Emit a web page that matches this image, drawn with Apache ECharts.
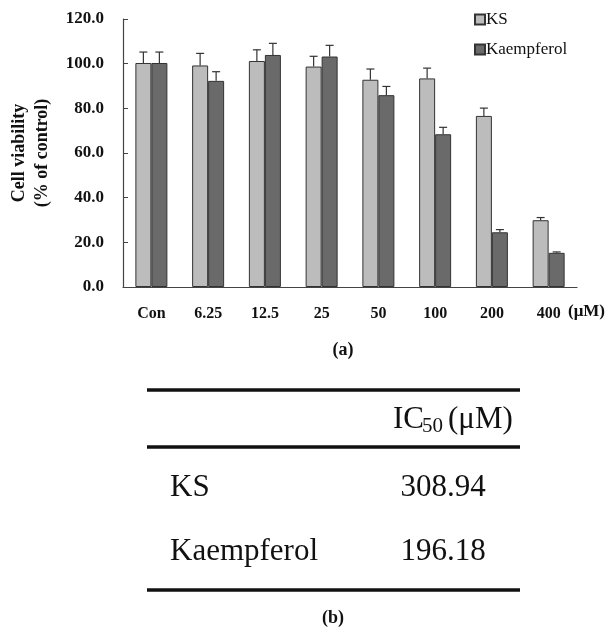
<!DOCTYPE html>
<html>
<head>
<meta charset="utf-8">
<script src="https://cdn.jsdelivr.net/npm/echarts@6/dist/echarts.min.js"></script>
<style>html,body{margin:0;padding:0;background:#fff;}#c{width:611px;height:634px;}</style>
</head>
<body>
<div id="c"></div>
<script>
const categories = ['Con', '6.25', '12.5', '25', '50', '100', '200', '400'];
const ksValues = [100.3, 99.2, 101.2, 98.7, 92.8, 93.4, 76.6, 29.9];
const ksErrors = [4.9, 5.4, 5.0, 4.6, 4.8, 4.6, 3.5, 1.2];
const kaeValues = [100.3, 92.3, 103.9, 103.2, 85.9, 68.4, 24.5, 15.3];
const kaeErrors = [4.9, 4.1, 5.2, 5.0, 3.9, 3.1, 1.2, 0.4];
const yTicks = [0, 20, 40, 60, 80, 100, 120];
const tableRows = [['KS', '308.94'], ['Kaempferol', '196.18']];

const serif = '"Liberation Serif", "Times New Roman", serif';
const chart = echarts.init(document.getElementById('c'));

function errSeries(values, errors, offset) {
  return {
    type: 'custom',
    silent: true,
    z: 5,
    data: values.map((v, i) => [i, v, errors[i]]),
    renderItem: function (params, api) {
      const i = api.value(0), v = api.value(1), e = api.value(2);
      const base = api.coord([i, v]);
      const top = api.coord([i, v + e]);
      const x = base[0] + offset;
      const cap = 4;
      return {
        type: 'group',
        children: [
          { type: 'line', shape: { x1: x, y1: base[1], x2: x, y2: top[1] }, style: { stroke: '#333', lineWidth: 1.2 } },
          { type: 'line', shape: { x1: x - cap, y1: top[1], x2: x + cap, y2: top[1] }, style: { stroke: '#333', lineWidth: 1.2 } }
        ]
      };
    }
  };
}

const graphics = [
  { type: 'text', x: 568, y: 312, style: { text: '(μM)', font: 'bold 17px ' + serif, fill: '#111', textAlign: 'left', textVerticalAlign: 'middle' } },
  { type: 'text', x: 343, y: 350, style: { text: '(a)', font: 'bold 18px ' + serif, fill: '#111', textAlign: 'center', textVerticalAlign: 'middle' } },
  { type: 'line', shape: { x1: 147, y1: 390, x2: 520, y2: 390 }, style: { stroke: '#111', lineWidth: 3.5 } },
  { type: 'line', shape: { x1: 147, y1: 447, x2: 520, y2: 447 }, style: { stroke: '#111', lineWidth: 3.5 } },
  { type: 'line', shape: { x1: 147, y1: 590, x2: 520, y2: 590 }, style: { stroke: '#111', lineWidth: 3.5 } },
  { type: 'text', x: 393, y: 420, style: { text: 'IC', font: '31px ' + serif, fill: '#111', textAlign: 'left', textVerticalAlign: 'middle' } },
  { type: 'text', x: 422, y: 426, style: { text: '50', font: '21px ' + serif, fill: '#111', textAlign: 'left', textVerticalAlign: 'middle' } },
  { type: 'text', x: 448, y: 420, style: { text: '(μM)', font: '31px ' + serif, fill: '#111', textAlign: 'left', textVerticalAlign: 'middle' } },
  { type: 'text', x: 333, y: 618, style: { text: '(b)', font: 'bold 18px ' + serif, fill: '#111', textAlign: 'center', textVerticalAlign: 'middle' } }
];
tableRows.forEach((r, k) => {
  const y = 488 + k * 64;
  graphics.push({ type: 'text', x: 170, y: y, style: { text: r[0], font: '31px ' + serif, fill: '#111', textAlign: 'left', textVerticalAlign: 'middle' } });
  graphics.push({ type: 'text', x: 443, y: y, style: { text: r[1], font: '31px ' + serif, fill: '#111', textAlign: 'center', textVerticalAlign: 'middle' } });
});

chart.setOption({
  animation: false,
  backgroundColor: '#fff',
  grid: { left: 123, right: 34, top: 19, bottom: 347, containLabel: false, outerBoundsMode: 'none' },
  legend: {
    orient: 'vertical',
    left: 469,
    top: 6,
    itemWidth: 10,
    itemHeight: 10,
    itemGap: 13,
    icon: 'rect',
    data: ['KS', 'Kaempferol'],
    textStyle: { fontFamily: serif, fontSize: 17, color: '#111', lineHeight: 17, padding: [0, 0, 0, -4] }
  },
  xAxis: {
    type: 'category',
    data: categories,
    axisLine: { lineStyle: { color: '#444', width: 1.2 } },
    axisTick: { inside: true, length: 5, lineStyle: { color: '#444' } },
    axisLabel: { fontFamily: serif, fontWeight: 'bold', fontSize: 16, color: '#111', margin: 19 }
  },
  yAxis: {
    type: 'value',
    min: 0,
    max: 120,
    interval: 20,
    name: 'Cell viability\n(% of control)',
    nameLocation: 'middle',
    nameRotate: 90,
    nameGap: 69,
    nameTextStyle: { fontFamily: serif, fontWeight: 'bold', fontSize: 18, color: '#111', lineHeight: 23 },
    axisLine: { show: true, lineStyle: { color: '#444', width: 1.2 } },
    axisTick: { show: true, inside: true, length: 5, lineStyle: { color: '#444' } },
    splitLine: { show: false },
    axisLabel: {
      fontFamily: serif, fontWeight: 'bold', fontSize: 17, color: '#111', margin: 19,
      customValues: yTicks,
      formatter: v => v.toFixed(1)
    }
  },
  series: [
    { name: 'KS', type: 'bar', data: ksValues, barWidth: 16, barGap: '0%',
      itemStyle: { color: '#bcbcbc', borderColor: '#333', borderWidth: 1 } },
    { name: 'Kaempferol', type: 'bar', data: kaeValues, barWidth: 16, barGap: '0%',
      itemStyle: { color: '#6a6a6a', borderColor: '#333', borderWidth: 1 } },
    errSeries(ksValues, ksErrors, -8),
    errSeries(kaeValues, kaeErrors, 8)
  ],
  graphic: graphics
});
</script>
</body>
</html>
